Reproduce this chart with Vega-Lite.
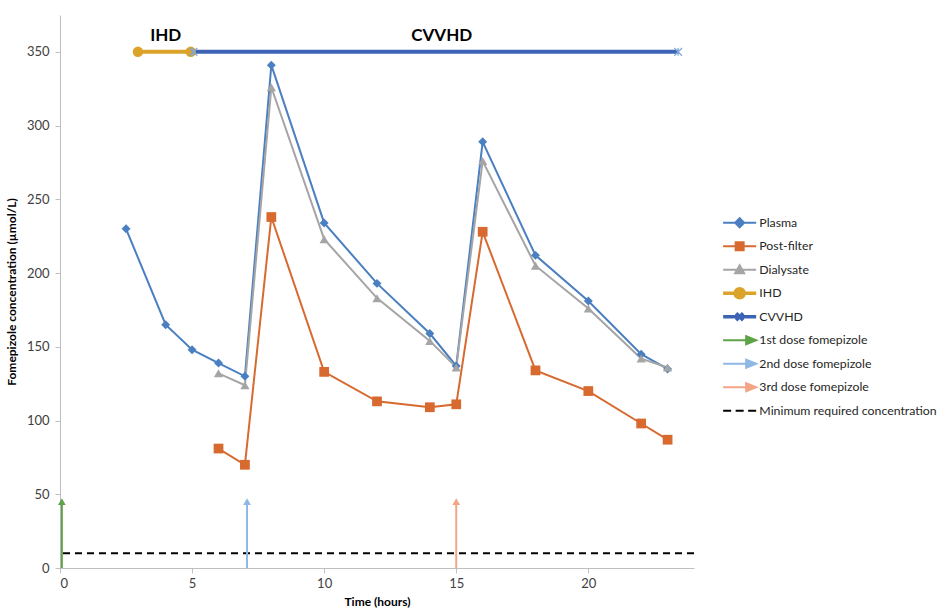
{
  "$schema": "https://vega.github.io/schema/vega-lite/v6.json",
  "width": 634,
  "height": 553,
  "autosize": {"type": "none"},
  "padding": {"left": 60, "top": 15, "right": 243, "bottom": 43},
  "background": "white",
  "config": {
    "view": {"stroke": null},
    "font": "Lato",
    "axis": {"grid": false, "domainColor": "#bfbfbf", "tickColor": "#bfbfbf", "tickSize": 5, "labelColor": "#404040", "labelFontSize": 13, "labelFont": "Lato", "titleFont": "Lato", "titleFontSize": 12, "titleFontWeight": "bold", "titleColor": "#000000"}
  },
  "datasets": {
    "conc": [
      {"series": "Plasma", "time": 2.5, "conc": 230},
      {"series": "Plasma", "time": 4, "conc": 165},
      {"series": "Plasma", "time": 5, "conc": 148},
      {"series": "Plasma", "time": 6, "conc": 139},
      {"series": "Plasma", "time": 7, "conc": 130},
      {"series": "Plasma", "time": 8, "conc": 341},
      {"series": "Plasma", "time": 10, "conc": 234},
      {"series": "Plasma", "time": 12, "conc": 193},
      {"series": "Plasma", "time": 14, "conc": 159},
      {"series": "Plasma", "time": 15, "conc": 137},
      {"series": "Plasma", "time": 16, "conc": 289},
      {"series": "Plasma", "time": 18, "conc": 212},
      {"series": "Plasma", "time": 20, "conc": 181},
      {"series": "Plasma", "time": 22, "conc": 145},
      {"series": "Plasma", "time": 23, "conc": 135},
      {"series": "Post-filter", "time": 6, "conc": 81},
      {"series": "Post-filter", "time": 7, "conc": 70},
      {"series": "Post-filter", "time": 8, "conc": 238},
      {"series": "Post-filter", "time": 10, "conc": 133},
      {"series": "Post-filter", "time": 12, "conc": 113},
      {"series": "Post-filter", "time": 14, "conc": 109},
      {"series": "Post-filter", "time": 15, "conc": 111},
      {"series": "Post-filter", "time": 16, "conc": 228},
      {"series": "Post-filter", "time": 18, "conc": 134},
      {"series": "Post-filter", "time": 20, "conc": 120},
      {"series": "Post-filter", "time": 22, "conc": 98},
      {"series": "Post-filter", "time": 23, "conc": 87},
      {"series": "Dialysate", "time": 6, "conc": 132},
      {"series": "Dialysate", "time": 7, "conc": 124},
      {"series": "Dialysate", "time": 8, "conc": 326},
      {"series": "Dialysate", "time": 10, "conc": 223},
      {"series": "Dialysate", "time": 12, "conc": 183},
      {"series": "Dialysate", "time": 14, "conc": 154},
      {"series": "Dialysate", "time": 15, "conc": 136},
      {"series": "Dialysate", "time": 16, "conc": 276},
      {"series": "Dialysate", "time": 18, "conc": 205},
      {"series": "Dialysate", "time": 20, "conc": 176},
      {"series": "Dialysate", "time": 22, "conc": 142},
      {"series": "Dialysate", "time": 23, "conc": 136},
      {"series": "IHD", "time": 2.95, "conc": 350},
      {"series": "IHD", "time": 4.95, "conc": 350},
      {"series": "CVVHD", "time": 5.05, "conc": 350},
      {"series": "CVVHD", "time": 23.4, "conc": 350}
    ],
    "doses": [
      {"series": "1st dose fomepizole", "time": 0.07, "low": 0, "high": 45},
      {"series": "2nd dose fomepizole", "time": 7.08, "low": 0, "high": 45},
      {"series": "3rd dose fomepizole", "time": 15.0, "low": 0, "high": 45}
    ],
    "minconc": [
      {"series": "Minimum required concentration", "conc": 10}
    ],
    "labels": [
      {"label": "IHD", "time": 4.0, "conc": 361},
      {"label": "CVVHD", "time": 14.45, "conc": 361}
    ]
  },
  "layer": [
    {
      "data": {"name": "minconc"},
      "mark": {"type": "rule", "strokeDash": [7, 5], "strokeWidth": 2},
      "encoding": {
        "y": {"field": "conc", "type": "quantitative", "scale": {"domain": [0, 375], "nice": false}},
        "color": {"field": "series", "type": "nominal"}
      }
    },
    {
      "data": {"name": "conc"},
      "mark": {"type": "line"},
      "encoding": {
        "x": {"field": "time", "type": "quantitative", "scale": {"domain": [0, 24], "nice": false},
              "axis": {"values": [0, 5, 10, 15, 20], "title": "Time (hours)", "labelPadding": 4, "titlePadding": 6}},
        "y": {"field": "conc", "type": "quantitative", "scale": {"domain": [0, 375], "nice": false},
              "axis": {"values": [0, 50, 100, 150, 200, 250, 300, 350], "title": "Fomepizole concentration (µmol/L)", "labelPadding": 6, "titlePadding": 8}},
        "color": {
          "field": "series", "type": "nominal",
          "scale": {
            "domain": ["Plasma", "Post-filter", "Dialysate", "IHD", "CVVHD", "1st dose fomepizole", "2nd dose fomepizole", "3rd dose fomepizole", "Minimum required concentration"],
            "range": ["#4a7fc1", "#d8692f", "#a5a5a5", "#dba329", "#3d64b4", "#5ea347", "#8fb8e4", "#f4a487", "#000000"]
          },
          "legend": {
            "title": null,
            "orient": "none",
            "legendX": 662,
            "legendY": 201,
            "symbolSize": 100,
            "labelOffset": 25,
            "labelFontSize": 12.3,
            "labelFont": "Lato",
            "labelColor": "#262626",
            "labelLimit": 300,
            "clipHeight": 13.5,
            "rowPadding": 9.5,
            "symbolLimit": 0,
            "encode": {
              "symbols": {
                "update": {
                  "shape": {"signal": "datum.value === 'Plasma' ? 'M-1,0H5.6M2.3,-0.9L3.2,0L2.3,0.9L1.4,0Z' : datum.value === 'Post-filter' ? 'M-1,0H5.6M1.5,-0.8H3.1V0.8H1.5Z' : datum.value === 'Dialysate' ? 'M-1,0H5.6M2.3,-0.9L3.2,0.7H1.4Z' : datum.value === 'IHD' ? 'M-1,0H5.6M1.4,0A0.9,0.9,0,1,0,3.2,0A0.9,0.9,0,1,0,1.4,0Z' : datum.value === 'CVVHD' ? 'M-1,0H5.6M1.6,-0.7L3.0,0.7M1.6,0.7L3.0,-0.7' : datum.value === 'Minimum required concentration' ? 'M-1,0H0.6M1.5,0H3.1M4.0,0H5.6' : 'M-1,0H4.3M3.6,-0.8L5.6,0L3.6,0.8Z'"},
                  "fill": {"signal": "datum.value === 'CVVHD' || datum.value === 'Minimum required concentration' ? 'transparent' : scale('color', datum.value)"},
                  "stroke": {"signal": "scale('color', datum.value)"},
                  "strokeWidth": {"signal": "datum.value === 'IHD' || datum.value === 'CVVHD' ? 3.5 : 2"},
                  "opacity": {"value": 1},
                  "fillOpacity": {"value": 1},
                  "strokeDash": {"value": []}
                }
              }
            }
          }
        },
        "detail": {"field": "series"},
        "strokeWidth": {"condition": {"test": "datum.series === 'IHD' || datum.series === 'CVVHD'", "value": 4}, "value": 2}
      }
    },
    {
      "data": {"name": "conc"},
      "transform": [{"filter": "datum.series === 'Plasma'"}],
      "mark": {"type": "point", "shape": "diamond", "filled": true, "size": 80, "opacity": 1},
      "encoding": {
        "x": {"field": "time", "type": "quantitative"},
        "y": {"field": "conc", "type": "quantitative"},
        "color": {"field": "series", "type": "nominal"}
      }
    },
    {
      "data": {"name": "conc"},
      "transform": [{"filter": "datum.series === 'Post-filter'"}],
      "mark": {"type": "point", "shape": "square", "filled": true, "size": 95, "opacity": 1},
      "encoding": {
        "x": {"field": "time", "type": "quantitative"},
        "y": {"field": "conc", "type": "quantitative"},
        "color": {"field": "series", "type": "nominal"}
      }
    },
    {
      "data": {"name": "conc"},
      "transform": [{"filter": "datum.series === 'Dialysate'"}],
      "mark": {"type": "point", "shape": "triangle-up", "filled": true, "size": 85, "opacity": 1},
      "encoding": {
        "x": {"field": "time", "type": "quantitative"},
        "y": {"field": "conc", "type": "quantitative"},
        "color": {"field": "series", "type": "nominal"}
      }
    },
    {
      "data": {"name": "conc"},
      "transform": [{"filter": "datum.series === 'IHD'"}],
      "mark": {"type": "point", "shape": "circle", "filled": true, "size": 110, "opacity": 1},
      "encoding": {
        "x": {"field": "time", "type": "quantitative"},
        "y": {"field": "conc", "type": "quantitative"},
        "color": {"field": "series", "type": "nominal"}
      }
    },
    {
      "data": {"name": "conc"},
      "transform": [{"filter": "datum.series === 'CVVHD'"}],
      "mark": {"type": "point", "shape": "M-1,-1L1,1M-1,1L1,-1M0,-1V1", "filled": false, "size": 60, "strokeWidth": 1.2, "opacity": 1, "color": "#7fa6d9"},
      "encoding": {
        "x": {"field": "time", "type": "quantitative"},
        "y": {"field": "conc", "type": "quantitative"}
      }
    },
    {
      "data": {"name": "doses"},
      "mark": {"type": "rule", "strokeWidth": 2},
      "encoding": {
        "x": {"field": "time", "type": "quantitative"},
        "y": {"field": "low", "type": "quantitative"},
        "y2": {"field": "high"},
        "color": {"field": "series", "type": "nominal"}
      }
    },
    {
      "data": {"name": "doses"},
      "mark": {"type": "point", "shape": "triangle-up", "filled": true, "size": 60, "opacity": 1},
      "encoding": {
        "x": {"field": "time", "type": "quantitative"},
        "y": {"field": "high", "type": "quantitative"},
        "color": {"field": "series", "type": "nominal"}
      }
    },
    {
      "data": {"name": "labels"},
      "mark": {"type": "text", "font": "Lato", "fontSize": 17, "fontWeight": "bold", "color": "#000000"},
      "encoding": {
        "x": {"field": "time", "type": "quantitative"},
        "y": {"field": "conc", "type": "quantitative"},
        "text": {"field": "label"}
      }
    }
  ]
}
